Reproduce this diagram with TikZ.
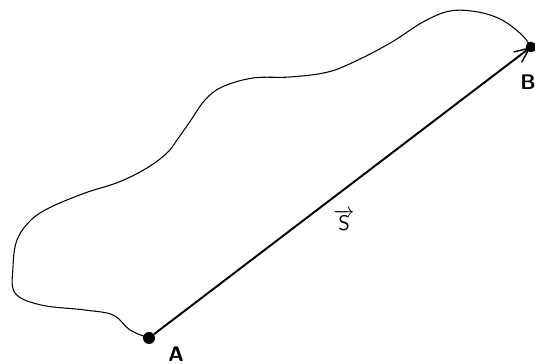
\documentclass[tikz,border=0pt]{standalone}
\usepackage{tikz}
\usetikzlibrary{arrows.meta}
\tikzset{
  pt/.style={circle, fill=black, inner sep=0pt, minimum size=2.4mm},
  trail/.style={line width=0.6pt},
  disp/.style={-{Straight Barb[length=3mm, width=2.6mm, line width=0.8pt]}, line width=1.1pt},
  lbl/.style={font=\sffamily\bfseries\large, inner sep=1pt}
}
\begin{document}
\begin{tikzpicture}[x=0.02cm, y=-0.02cm]
  \useasboundingbox (0,0) rectangle (535,364);
  \node[pt] (A) at (149,338) {};
  \coordinate (B) at (531,47);
  \node[lbl] (labA) at (176,354) {A};
  \node[lbl] (labB) at (528,82) {B};

  % wandering path from A to B
  \draw[trail] plot[smooth, tension=0.6] coordinates {
    (149,338) (130,330) (113,315) (85,310) (41,305) (15,293) (13,267)
    (17,240) (31,220) (51,207) (85,193) (119,182) (147,168) (167,153)
    (177,140) (191,120) (205,100) (222,87) (253,78) (290,77) (328,72)
    (358,60) (392,42) (423,22) (450,11) (478,12) (502,20) (522,35) (531,47)};

  % displacement vector
  \draw[disp] (A) -- (B);
  \fill (B) circle (3pt);
  \node[font=\large, inner sep=1pt] (s) at (344,220) {$\overrightarrow{\mathsf{S}}$};
\end{tikzpicture}
\end{document}
